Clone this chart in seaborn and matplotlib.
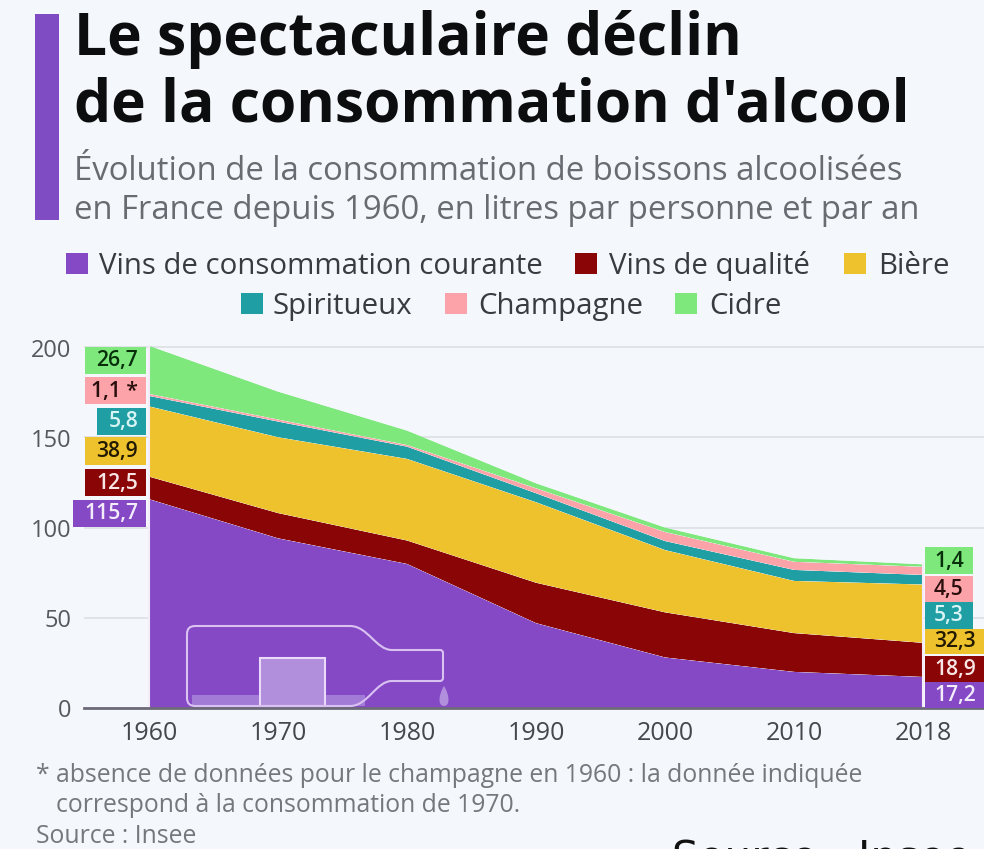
#!/usr/bin/env python
# -*- coding: utf-8 -*-

import matplotlib
matplotlib.use("Agg")
import matplotlib.pyplot as plt
import pandas as pd
import seaborn as sns
import seaborn.objects as so
from matplotlib.patches import PathPatch, Rectangle
from matplotlib.path import Path
from matplotlib.transforms import Affine2D

W, H = 984, 849
BG = "#f4f7fb"

years = ["1960", "1970", "1980", "1990", "2000", "2010", "2018"]
series = ["Vins de consommation courante", "Vins de qualité", "Bière",
          "Spiritueux", "Champagne", "Cidre"]
courante = [115.7, 94, 79.8, 47, 28, 20, 17.2]
qualite = [12.5, 14, 13, 22.4, 25, 21.5, 18.9]
biere = [38.9, 42, 45.2, 44.6, 34.5, 28.9, 32.3]
spiritueux = [5.8, 8.7, 6.8, 5, 5, 6.1, 5.3]
champagne = [1.1, 1.1, 0.9, 2.7, 5, 4.5, 4.5]
cidre = [26.7, 15.5, 8, 2.8, 2.5, 2, 1.4]
values = [courante, qualite, biere, spiritueux, champagne, cidre]

labels_1960 = ["115,7", "12,5", "38,9", "5,8", "1,1 *", "26,7"]
labels_2018 = ["17,2", "18,9", "32,3", "5,3", "4,5", "1,4"]
colors = ["#8549c6", "#8a0505", "#eec22c", "#1f9ea3", "#fba3a8", "#7ee87c"]
text_colors = ["#f3ecfb", "#f8e6e6", "#221a00", "#d8f4f4", "#2a0d0d", "#07300a"]

sns.set_theme(style="white")
plt.rcParams["font.family"] = ["Open Sans", "DejaVu Sans"]

df = pd.DataFrame(
    [{"x": i, "serie": s, "val": v[i]} for s, v in zip(series, values) for i in range(len(years))]
)

fig = plt.figure(figsize=(W / 100, H / 100), dpi=100, facecolor=BG)
ax = fig.add_axes([84 / W, (H - 708) / H, (W - 84) / W, 370 / H])
ax.set_facecolor(BG)

(
    so.Plot(df, x="x", y="val", color="serie")
    .add(so.Area(alpha=1, edgewidth=0), so.Stack(), legend=False)
    .scale(color=so.Nominal(dict(zip(series, colors)), order=series))
    .on(ax)
    .plot()
)

ax.set_xlim((84 - 149) / 129, (984 - 149) / 129)
ax.set_ylim(0, 370 / 1.805)
ax.set_xlabel("")
ax.set_ylabel("")
ax.set_xticks(range(len(years)))
ax.set_yticks([0, 50, 100, 150, 200])
ax.set_yticklabels([])
ax.set_xticklabels([])
ax.tick_params(length=0)
ax.grid(axis="y", color="#dcdfe3", lw=1.2)
ax.grid(axis="x", visible=False)
ax.set_axisbelow(True)
sns.despine(ax=ax, left=True, top=True, right=True)
ax.spines["bottom"].set_color("#6d6a78")
ax.spines["bottom"].set_linewidth(2)
ax.axvline(0, ymax=200.7 * 1.805 / 370, color="#f4ecfb", lw=1.5)
ax.axvline(6, ymax=79.6 * 1.805 / 370, color="#f4ecfb", lw=1.5)

# everything below is placed in picture pixels
px = Affine2D().scale(1 / W, -1 / H).translate(0, 1) + fig.transFigure


def text(x, y, s, size, **kw):
    kw.setdefault("color", "#3c3f44")
    kw.setdefault("va", "baseline")
    fig.text(x / W, 1 - y / H, s, fontsize=size, **kw)


def box(x0, y0, x1, y1, color, **kw):
    fig.add_artist(Rectangle((x0, y0), x1 - x0, y1 - y0, transform=px, facecolor=color,
                             edgecolor="none", **kw))


# header
box(35, 14, 59, 220, "#7f4cc4")
text(74, 55, "Le spectaculaire déclin", 42.3, weight="bold", color="#0c0d0f")
text(74, 122, "de la consommation d'alcool", 42.3, weight="bold", color="#0c0d0f")
text(74, 180, "Évolution de la consommation de boissons alcoolisées", 23.7, color="#686c72")
text(74, 219, "en France depuis 1960, en litres par personne et par an", 23.7, color="#686c72")

# legend
legend_pos = [(66, 274, 99), (575, 274, 609), (844, 274, 878),
              (241, 314, 273), (445, 314, 478), (675, 314, 709)]
for (sx, sy, tx), name, c in zip(legend_pos, series, colors):
    box(sx, sy - 21, sx + 22, sy, c)
    text(tx, sy, name, 21.2, color="#383b40")

# axis labels
for y, s in zip([717, 627, 537, 447, 357], ["0", "50", "100", "150", "200"]):
    text(71, y, s, 17, ha="right", color="#55585c")
for i, s in enumerate(years):
    text(149 + 129 * i, 740, s, 18, ha="center", color="#44474c")

# value boxes
left_boxes = [(73, 500, 527), (85, 469, 496), (85, 437, 465), (97, 408, 435), (85, 377, 404), (85, 347, 374)]
for (x0, y0, y1), s, c, tc in zip(left_boxes, labels_1960, colors, text_colors):
    box(x0, y0, 146, y1, c)
    text(138, (y0 + y1) / 2 + 6, s, 15.2, ha="right", weight="semibold", color=tc)
right_boxes = [(682, 708, 984), (656, 682, 984), (629, 654, 984), (602, 629, 973), (576, 602, 973), (547, 574, 973)]
for (y0, y1, x1), s, c, tc in zip(right_boxes, labels_2018, colors, text_colors):
    box(925, y0, x1, y1, c)
    text(934, (y0 + y1) / 2 + 6, s, 15.2, weight="semibold", color=tc)

# bottle
verts = [(195, 626), (350, 626), (368, 626), (376, 650), (392, 650), (440, 650), (443, 650), (443, 653),
         (443, 678), (443, 681), (440, 681), (392, 681), (376, 681), (368, 706), (350, 706),
         (195, 706), (187, 706), (187, 698), (187, 634), (187, 626), (195, 626)]
codes = [Path.MOVETO, Path.LINETO, Path.CURVE4, Path.CURVE4, Path.CURVE4, Path.LINETO, Path.CURVE3, Path.CURVE3,
         Path.LINETO, Path.CURVE3, Path.CURVE3, Path.LINETO, Path.CURVE4, Path.CURVE4, Path.CURVE4,
         Path.LINETO, Path.CURVE3, Path.CURVE3, Path.LINETO, Path.CURVE3, Path.CURVE3]
box(192, 695, 365, 706, "#a27bd6")
box(260, 658, 325, 706, "#b18fdc")
fig.add_artist(Rectangle((260, 658), 65, 48, transform=px, fill=False, edgecolor="#ead9f8", lw=1.5))
fig.add_artist(PathPatch(Path(verts, codes), transform=px, fill=False, edgecolor="#d9c2f2", lw=1.5))
drop = [(444, 686), (450, 696), (450, 706), (444, 706), (438, 706), (438, 696), (444, 686)]
fig.add_artist(PathPatch(Path(drop, [Path.MOVETO] + [Path.CURVE4] * 6), transform=px,
                         facecolor="#b18fdc", edgecolor="none"))

# notes
text(36, 782, "* absence de données pour le champagne en 1960 : la donnée indiquée", 17.8, color="#74777c")
text(56, 812, "correspond à la consommation de 1970.", 17.8, color="#74777c")
text(36, 843, "Source : Insee", 17.8, color="#74777c")
text(672, 872, "Source : Insee", 30.3, color="#111111", family="DejaVu Sans")

fig.savefig("out.png", dpi=100, facecolor=BG)
